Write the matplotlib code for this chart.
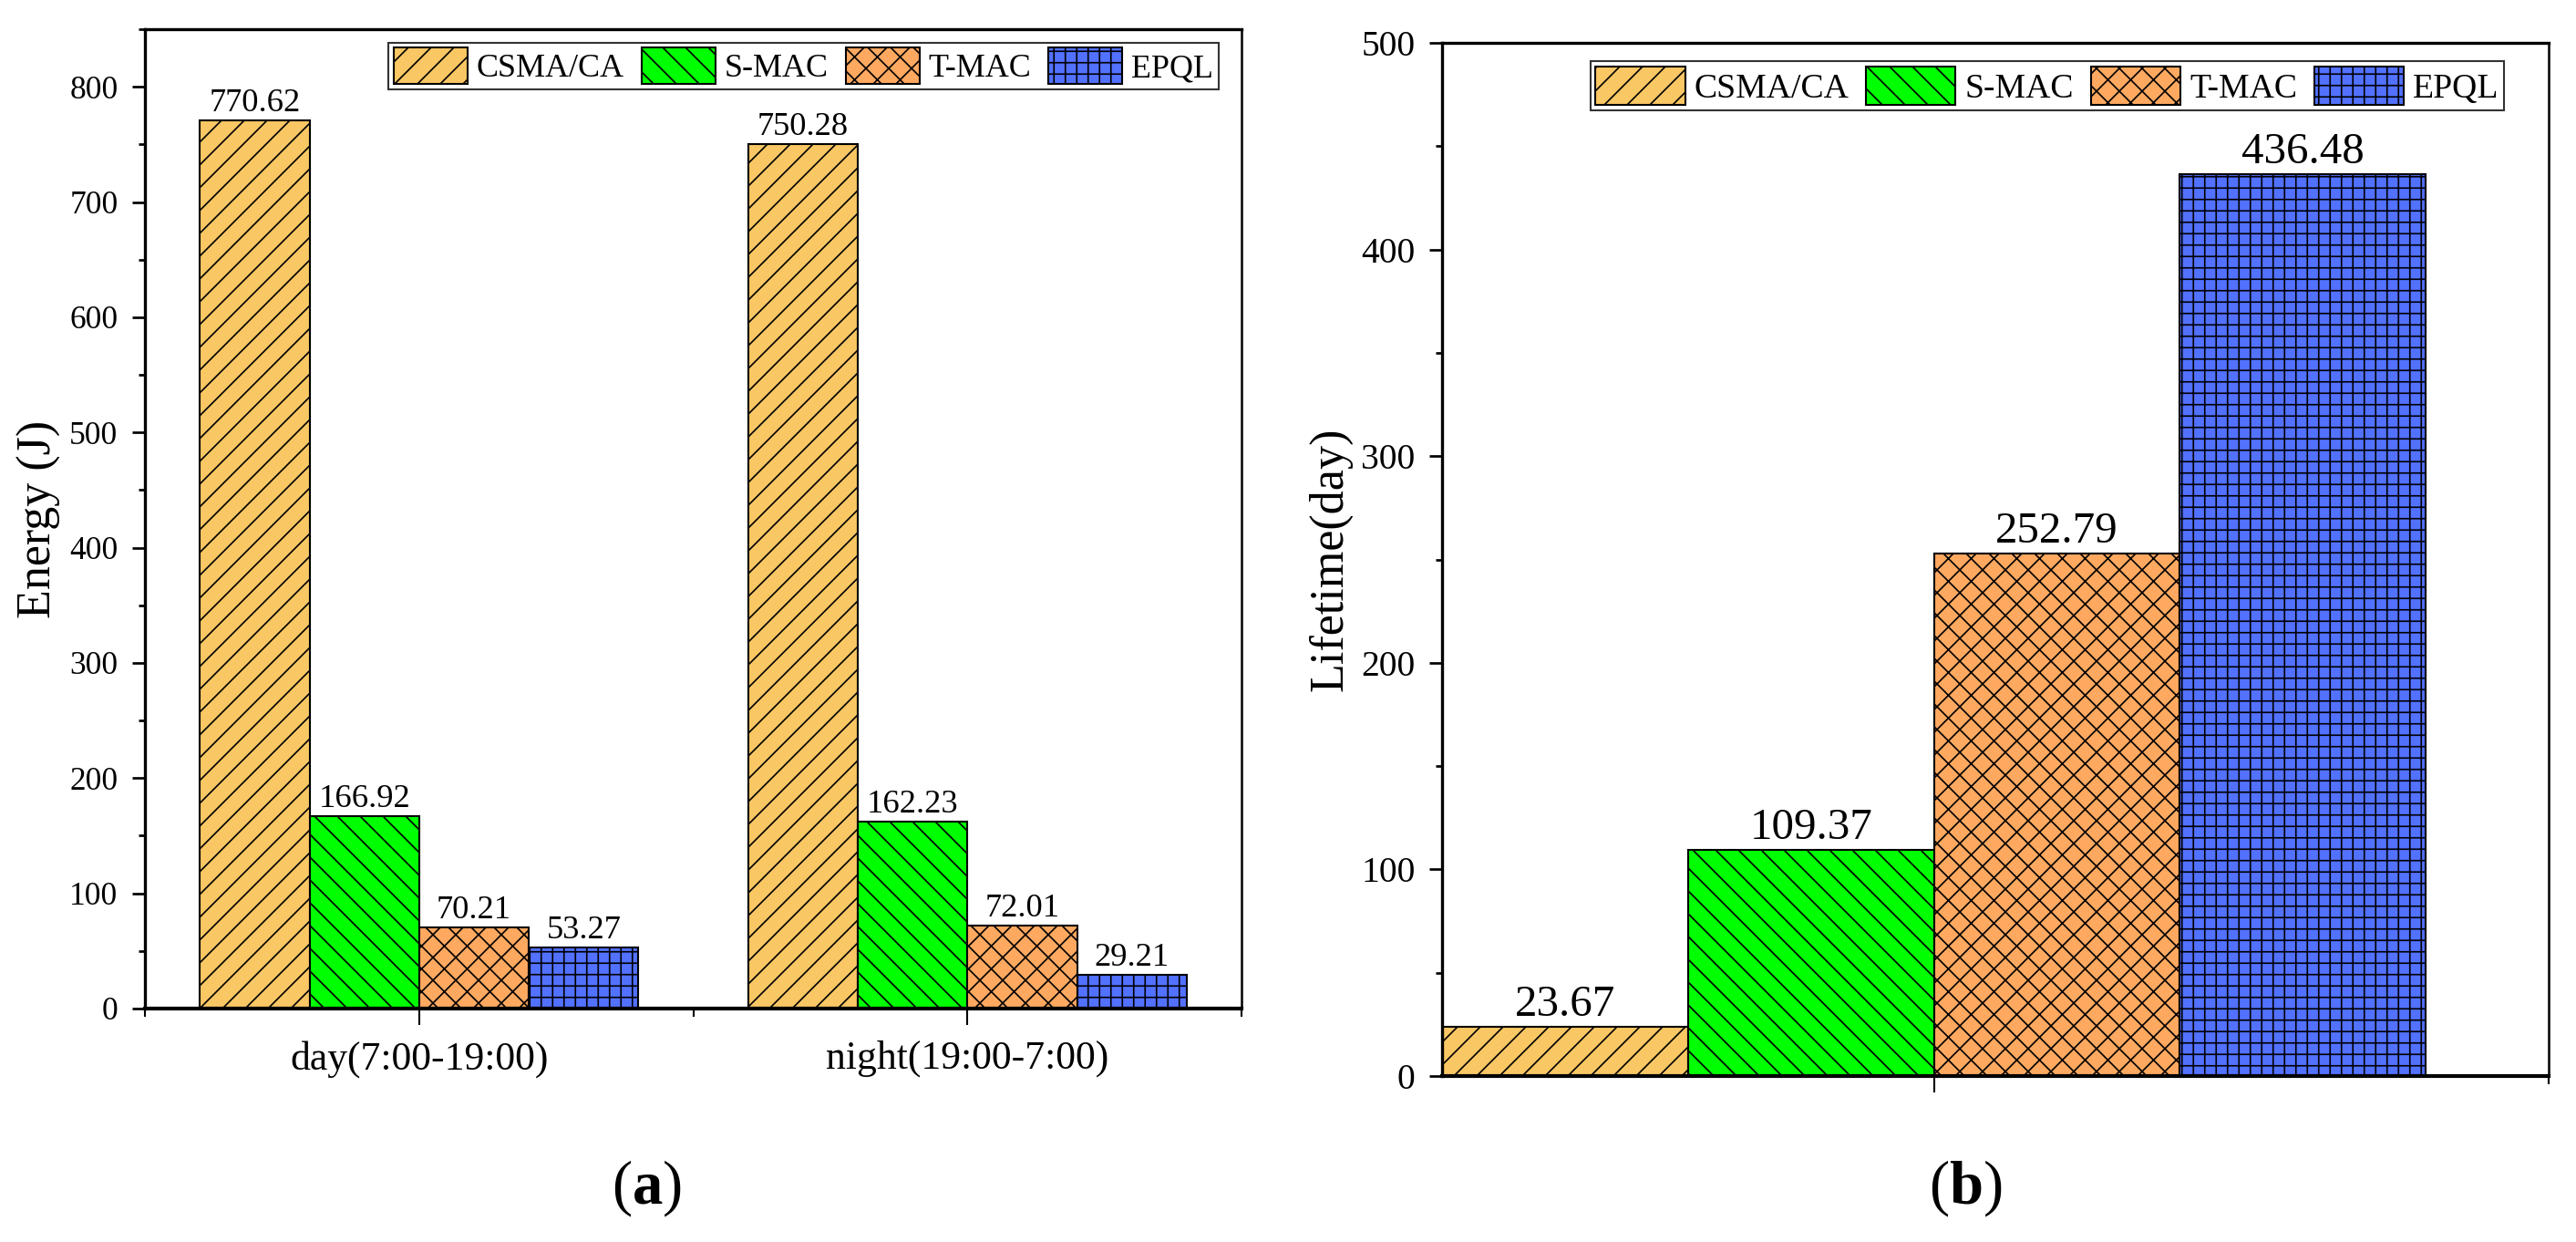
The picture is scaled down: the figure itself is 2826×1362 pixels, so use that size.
import numpy as np
import matplotlib
matplotlib.use("Agg")
import matplotlib.pyplot as plt
from matplotlib.ticker import MultipleLocator, FixedLocator

plt.rcParams["font.family"] = ["Liberation Serif", "DejaVu Serif"]
plt.rcParams["mathtext.fontset"] = "custom"
plt.rcParams["mathtext.rm"] = "Liberation Serif"
plt.rcParams["mathtext.bf"] = "Liberation Serif:bold"
plt.rcParams["hatch.linewidth"] = 0.8

# ---- data ----
protocols = ["CSMA/CA", "S-MAC", "T-MAC", "EPQL"]
periods = ["day(7:00-19:00)", "night(19:00-7:00)"]

energy_csma = [770.62, 750.28]
energy_smac = [166.92, 162.23]
energy_tmac = [70.21, 72.01]
energy_epql = [53.27, 29.21]

lifetime = [23.67, 109.37, 252.79, 436.48]

colors = ["#F9C764", "#00FF00", "#FFA960", "#5271FF"]
hatches = ["//", "\\\\", "xx", "++"]

W = 0.2

fig = plt.figure(figsize=(18.84, 9.08), dpi=150)
ax1 = fig.add_axes([0.0563, 0.188, 0.4257, 0.7885])
ax2 = fig.add_axes([0.5598, 0.1336, 0.4296, 0.8319])


def style(ax):
    for s in ["left", "top"]:
        ax.spines[s].set_linewidth(1.6)
    ax.spines["bottom"].set_linewidth(2.0)
    ax.spines["right"].set_linewidth(1.2)
    ax.tick_params(axis="y", which="major", direction="out", length=6.7, width=1.3, pad=7.5)
    ax.tick_params(axis="y", which="minor", direction="out", length=3.4, width=1.3)
    ax.tick_params(axis="x", which="major", direction="out", length=8.6, width=1.0, pad=8)
    ax.tick_params(axis="x", which="minor", direction="out", length=4.5, width=1.0)
    ax.yaxis.set_major_locator(MultipleLocator(100))
    ax.yaxis.set_minor_locator(MultipleLocator(50))


# (a) energy
x = np.arange(len(periods))
series = [energy_csma, energy_smac, energy_tmac, energy_epql]
for i, vals in enumerate(series):
    bars = ax1.bar(x + (i - 1.5) * W, vals, W, color=colors[i], hatch=hatches[i],
                   edgecolor="black", linewidth=1.0, label=protocols[i])
    ax1.bar_label(bars, fmt="%.2f", padding=1, fontsize=17.5)

style(ax1)
ax1.set_xlim(-0.5, 1.5)
ax1.set_ylim(0, 850)
ax1.set_xticks(x)
ax1.set_xticklabels(periods, fontsize=21)
ax1.xaxis.set_minor_locator(FixedLocator([-0.5, 0.5, 1.5]))
ax1.tick_params(axis="y", labelsize=17)
ax1.set_ylabel("Energy (J)", fontsize=25)
ax1.yaxis.set_label_coords(-0.0765, 0.5)
leg1 = ax1.legend(ncol=4, loc="upper right", bbox_to_anchor=(0.979, 0.986), borderaxespad=0,
                  fontsize=17.3, handlelength=2.25, handleheight=1.3, handletextpad=0.28,
                  columnspacing=0.52, borderpad=0.15, fancybox=False, edgecolor="#333333",
                  framealpha=1)
leg1.get_frame().set_linewidth(1.0)

# (b) lifetime
for i, val in enumerate(lifetime):
    bars = ax2.bar([(i - 1.5) * W], [val], W, color=colors[i], hatch=hatches[i],
                   edgecolor="black", linewidth=1.0, label=protocols[i])
    ax2.bar_label(bars, fmt="%.2f", padding=1, fontsize=23.5)

style(ax2)
ax2.set_xlim(-0.4, 0.5)
ax2.set_ylim(0, 500)
ax2.set_xticks([0])
ax2.set_xticklabels([""])
ax2.xaxis.set_minor_locator(FixedLocator([0.5]))
ax2.tick_params(axis="y", labelsize=19)
ax2.set_ylabel("Lifetime(day)", fontsize=25)
ax2.yaxis.set_label_coords(-0.0815, 0.5)
leg2 = ax2.legend(ncol=4, loc="upper right", bbox_to_anchor=(0.96, 0.982), borderaxespad=0,
                  fontsize=18.1, handlelength=2.6, handleheight=1.33, handletextpad=0.27,
                  columnspacing=0.5, borderpad=0.15, fancybox=False, edgecolor="#333333",
                  framealpha=1)
leg2.get_frame().set_linewidth(1.0)

fig.text(0.251, 0.043, r"($\mathbf{a}$)", ha="center", va="center", fontsize=32)
fig.text(0.763, 0.043, r"($\mathbf{b}$)", ha="center", va="center", fontsize=32)

fig.savefig("out.png", dpi=150)
